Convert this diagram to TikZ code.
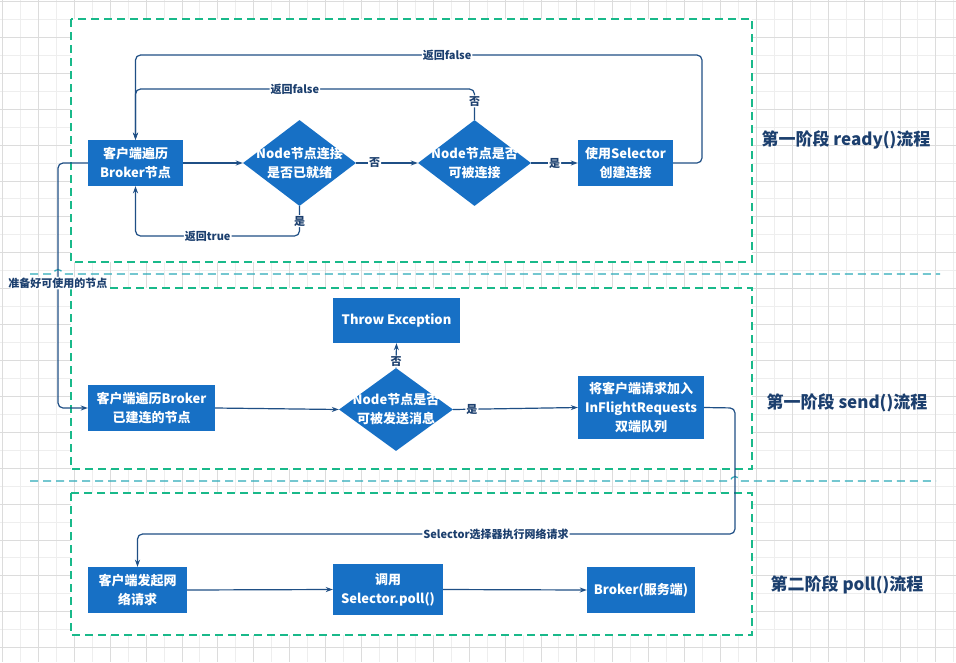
\documentclass[tikz,border=0pt]{standalone}
\usepackage{fontspec}
\setmainfont{Noto Sans CJK SC}
\usetikzlibrary{shapes.geometric,arrows.meta,calc}
\definecolor{boxblue}{HTML}{1770C5}
\definecolor{linec}{HTML}{1F4F85}
\definecolor{txtc}{HTML}{1C3F6E}
\definecolor{zonegreen}{HTML}{19B98A}
\definecolor{sepc}{HTML}{2AAAB8}
\definecolor{gmin}{HTML}{EEEEEE}
\definecolor{gmaj}{HTML}{DCDCDC}
\tikzset{
  stepbox/.style={draw=none,fill=boxblue,text=white,align=center,inner sep=0pt,
    font=\fontsize{13pt}{19pt}\selectfont\bfseries},
  dia/.style={diamond,draw=none,fill=boxblue,inner sep=0pt},
  diatext/.style={text=white,align=center,inner sep=0pt,
    font=\fontsize{13pt}{19pt}\selectfont\bfseries},
  conn/.style={draw=linec,line width=1.2pt,rounded corners=5pt},
  arr/.style={-{Stealth[length=7pt,width=5pt]}},
  lbl/.style={fill=white,inner sep=1pt,text=txtc,font=\fontsize{11pt}{13pt}\selectfont\bfseries},
  phase/.style={text=txtc,font=\fontsize{17pt}{20pt}\selectfont\bfseries},
  zone/.style={draw=zonegreen,line width=1.2pt,dash pattern=on 8pt off 5pt,fill=white},
  sepline/.style={draw=sepc,line width=1.2pt,dash pattern=on 8pt off 5pt}
}
\begin{document}
\begin{tikzpicture}[x=1pt,y=-1pt]
\useasboundingbox (0,0) rectangle (956,662);
\fill[white] (0,0) rectangle (956,662);
% grid
\foreach \i in {0,...,53}{
  \pgfmathsetmacro{\gx}{2.5+17.95*\i}
  \ifodd\i \draw[gmin,line width=1pt] (\gx,0) -- (\gx,662); \fi
}
\foreach \i in {0,...,37}{
  \pgfmathsetmacro{\gy}{1.5+17.95*\i}
  \ifodd\i \draw[gmin,line width=1pt] (0,\gy) -- (956,\gy); \fi
}
\foreach \i in {0,...,53}{
  \pgfmathsetmacro{\gx}{2.5+17.95*\i}
  \ifodd\i \else \draw[gmaj,line width=1pt] (\gx,0) -- (\gx,662); \fi
}
\foreach \i in {0,...,37}{
  \pgfmathsetmacro{\gy}{1.5+17.95*\i}
  \ifodd\i \else \draw[gmaj,line width=1pt] (0,\gy) -- (956,\gy); \fi
}
% zones
\filldraw[zone] (71,19) rectangle (752,262);
\filldraw[zone] (71,288) rectangle (752,469);
\filldraw[zone] (71,493) rectangle (752,635);
% separators with line jumps
\draw[sepline] (30,274) -- (53,274) .. controls (55,268) and (61,268) .. (63,274) -- (940,274);
\draw[sepline] (30,481) -- (730,481) .. controls (732,475) and (738,475) .. (740,481) -- (936,481);

% phase 1 nodes
\node[stepbox,minimum width=95pt,minimum height=46pt] (a) at (135.5,163) {客户端遍历\\Broker节点};
\node[dia,minimum width=113pt,minimum height=86pt] (b) at (299.5,163) {};
\node[diatext] (bt) at (b) {Node节点连接\\是否已就绪};
\node[dia,minimum width=113pt,minimum height=86pt] (c) at (474.5,163) {};
\node[diatext] (ct) at (c) {Node节点是否\\可被连接};
\node[stepbox,minimum width=95pt,minimum height=46pt] (d) at (625.5,163) {使用Selector\\创建连接};

% phase 2 nodes
\node[stepbox,minimum width=127pt,minimum height=46pt] (e) at (151.5,408) {客户端遍历Broker\\已建连的节点};
\node[dia,minimum width=114pt,minimum height=83pt] (f) at (396,409.5) {};
\node[diatext] (ft) at (f) {Node节点是否\\可被发送消息};
\node[stepbox,minimum width=127pt,minimum height=45pt] (g) at (396.5,320.5) {Throw Exception};
\node[stepbox,minimum width=126pt,minimum height=63pt] (h) at (641,407.5) {将客户端请求加入\\InFlightRequests\\双端队列};

% phase 3 nodes
\node[stepbox,minimum width=99pt,minimum height=46pt] (i) at (137.5,590) {客户端发起网\\络请求};
\node[stepbox,minimum width=110pt,minimum height=51pt] (j) at (388,589.5) {调用\\Selector.poll()};
\node[stepbox,minimum width=108pt,minimum height=46pt] (k) at (641,590) {Broker(服务端)};

% phase titles
\node[phase] (t1) at (846,140) {第一阶段 ready()流程};
\node[phase] (t2) at (847,403) {第一阶段 send()流程};
\node[phase] (t3) at (847,585) {第二阶段 poll()流程};

% waypoints
\coordinate (p1) at (299.5,236);
\coordinate (p2) at (474.5,89);
\coordinate (p3) at (702,163);
\coordinate (p4) at (702,55);
\coordinate (p5) at (58,163);
\coordinate (p6) at (58,408);
\coordinate (p7) at (735,408);
\coordinate (p8) at (735,534);

% phase 1 connectors
\draw[conn,arr] (a.east) -- (b.west);
\draw[conn,arr] (b.east) -- node[lbl,pos=0.3]{否} (c.west);
\draw[conn,arr] (c.east) -- node[lbl]{是} (d.west);
\draw[conn,arr] (b.south) -- node[lbl]{是} (p1) -- node[lbl,pos=0.56]{返回true} (a.south |- p1) -- (a.south);
\draw[conn,arr] (c.north) -- node[lbl,pos=0.6]{否} (p2) -- node[lbl,pos=0.53]{返回false} (a.north |- p2) -- (a.north);
\draw[conn,arr] (d.east) -- (p3) -- (p4) -- node[lbl,pos=0.45]{返回false} (a.north |- p4) -- (a.north);

% phase 1 -> 2
\draw[conn,arr] (a.west) -- (p5) -- node[lbl,pos=0.49]{准备好可使用的节点} (p6) -- (e.west);

% phase 2 connectors
\draw[conn,arr] (e.east) -- (f.west);
\draw[conn,arr] (f.north) -- node[lbl,pos=0.25]{否} (g.south);
\draw[conn,arr] (f.east) -- node[lbl,pos=0.15]{是} (h.west);
\draw[conn,arr] (h.east) -- (p7) -- (p8) -- node[lbl,pos=0.4]{Selector选择器执行网络请求} (i.north |- p8) -- (i.north);

% phase 3 connectors
\draw[conn,arr] (i.east) -- (j.west);
\draw[conn,arr] (j.east) -- (k.west);
\end{tikzpicture}
\end{document}
